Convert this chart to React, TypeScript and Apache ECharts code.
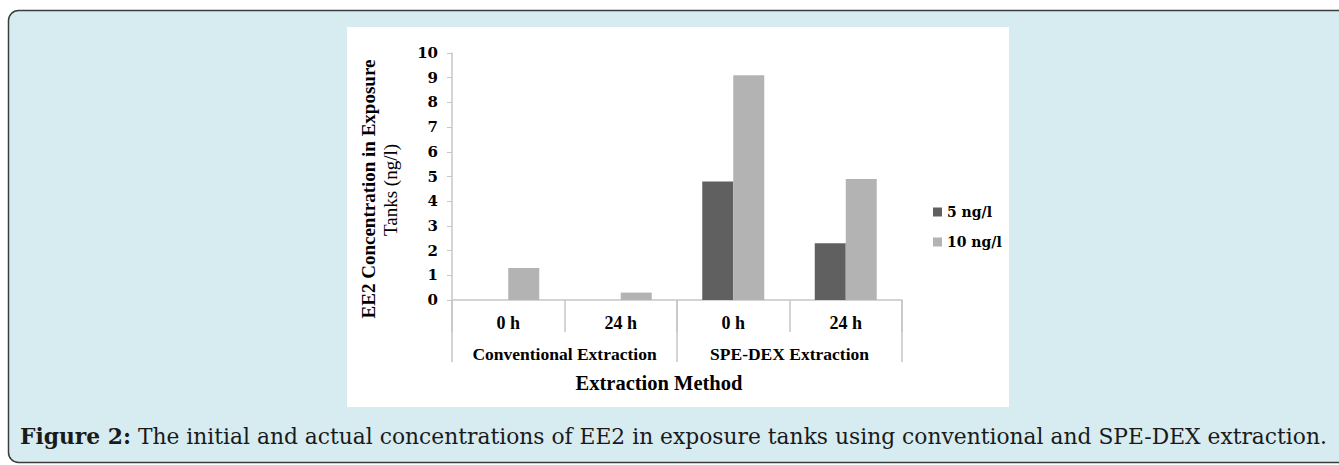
import React, { useEffect, useRef } from "react";
import * as echarts from "echarts";

const categories = ["0 h", "24 h", "0 h", "24 h"];
const groups = ["Conventional Extraction", "SPE-DEX Extraction"];
const seriesNames = ["5 ng/l", "10 ng/l"];
const values5 = [0, 0, 4.8, 2.3];
const values10 = [1.3, 0.3, 9.1, 4.9];
const yMin = 0;
const yMax = 10;
const yInterval = 1;
const yTitle1 = "EE2 Concentration in Exposure";
const yTitle2 = "Tanks (ng/l)";
const xTitle = "Extraction Method";
const captionBold = "Figure 2:";
const captionText = " The initial and actual concentrations of EE2 in exposure tanks using conventional and SPE-DEX extraction.";

const AXIS = "#c6c6c6";
const SERIF = "'Liberation Serif', 'Times New Roman', serif";
const WIDE = "'DejaVu Serif', serif";

export default function App() {
  const ref = useRef<HTMLDivElement>(null);
  useEffect(() => {
    if (!ref.current) return;
    const chart = echarts.init(ref.current, undefined, { renderer: "svg" });
    chart.setOption({
      animation: false,
      grid: { left: 452, right: 437, top: 53, bottom: 165, containLabel: false },
      legend: {
        data: seriesNames,
        orient: "vertical",
        left: 928,
        top: 200,
        icon: "rect",
        itemWidth: 9,
        itemHeight: 9,
        itemGap: 16,
        textStyle: { fontFamily: WIDE, fontWeight: "bold", fontSize: 14, color: "#000", lineHeight: 14 },
      },
      xAxis: [
        {
          type: "category",
          data: categories,
          position: "bottom",
          axisLine: { show: true, lineStyle: { color: AXIS, width: 1.5 } },
          axisTick: { show: true, length: 32, interval: 0, lineStyle: { color: AXIS, width: 1.5 } },
          axisLabel: { margin: 14, interval: 0, fontFamily: SERIF, fontWeight: "bold", fontSize: 18, color: "#000" },
        },
        {
          type: "category",
          data: groups,
          position: "bottom",
          axisLine: { show: false },
          axisTick: { show: true, length: 62, interval: 0, lineStyle: { color: AXIS, width: 1.5 } },
          axisLabel: { margin: 45, interval: 0, fontFamily: SERIF, fontWeight: "bold", fontSize: 17.5, color: "#000" },
        },
      ],
      yAxis: {
        type: "value",
        min: yMin,
        max: yMax,
        interval: yInterval,
        axisLine: { show: true, lineStyle: { color: AXIS, width: 1.5 } },
        axisTick: { show: true, length: 5, lineStyle: { color: AXIS, width: 1 } },
        splitLine: { show: false },
        axisLabel: { margin: 14, fontFamily: WIDE, fontWeight: "bold", fontSize: 15, color: "#000" },
      },
      series: [
        { name: seriesNames[0], type: "bar", xAxisIndex: 0, data: values5, barWidth: 31, barGap: "0%", itemStyle: { color: "#606060" } },
        { name: seriesNames[1], type: "bar", xAxisIndex: 0, data: values10, barWidth: 31, barGap: "0%", itemStyle: { color: "#b3b3b3" } },
      ],
      graphic: [
        {
          type: "rect",
          z: -10,
          shape: { x: 8.5, y: 10.5, width: 1400, height: 452, r: 10 },
          style: { fill: "#d7ecf1", stroke: "#3c3c3c", lineWidth: 1.5 },
        },
        {
          type: "rect",
          z: -9,
          shape: { x: 347, y: 27, width: 662, height: 380 },
          style: { fill: "#ffffff" },
        },
        {
          type: "text",
          z: 10,
          x: 368,
          y: 189,
          rotation: Math.PI / 2,
          style: { text: yTitle1, fontFamily: SERIF, fontWeight: "bold", fontSize: 19, fill: "#000", textAlign: "center", textVerticalAlign: "middle" },
        },
        {
          type: "text",
          z: 10,
          x: 390,
          y: 190,
          rotation: Math.PI / 2,
          style: { text: yTitle2, fontFamily: SERIF, fontSize: 19, fill: "#000", textAlign: "center", textVerticalAlign: "middle" },
        },
        {
          type: "text",
          z: 10,
          x: 659,
          y: 383,
          style: { text: xTitle, fontFamily: SERIF, fontWeight: "bold", fontSize: 20.5, fill: "#000", textAlign: "center", textVerticalAlign: "middle" },
        },
        {
          type: "text",
          z: 10,
          x: 20,
          y: 436,
          style: {
            text: "{b|" + captionBold + "}" + captionText,
            fontFamily: WIDE,
            fontSize: 21.8,
            fill: "#1a1a1a",
            textAlign: "left",
            textVerticalAlign: "middle",
            rich: { b: { fontFamily: WIDE, fontWeight: "bold", fontSize: 21.8, fill: "#1a1a1a" } },
          },
        },
      ],
    });
    return () => chart.dispose();
  }, []);
  return <div ref={ref} style={{ position: "absolute", left: 0, top: 0, width: 1339, height: 465 }} />;
}
